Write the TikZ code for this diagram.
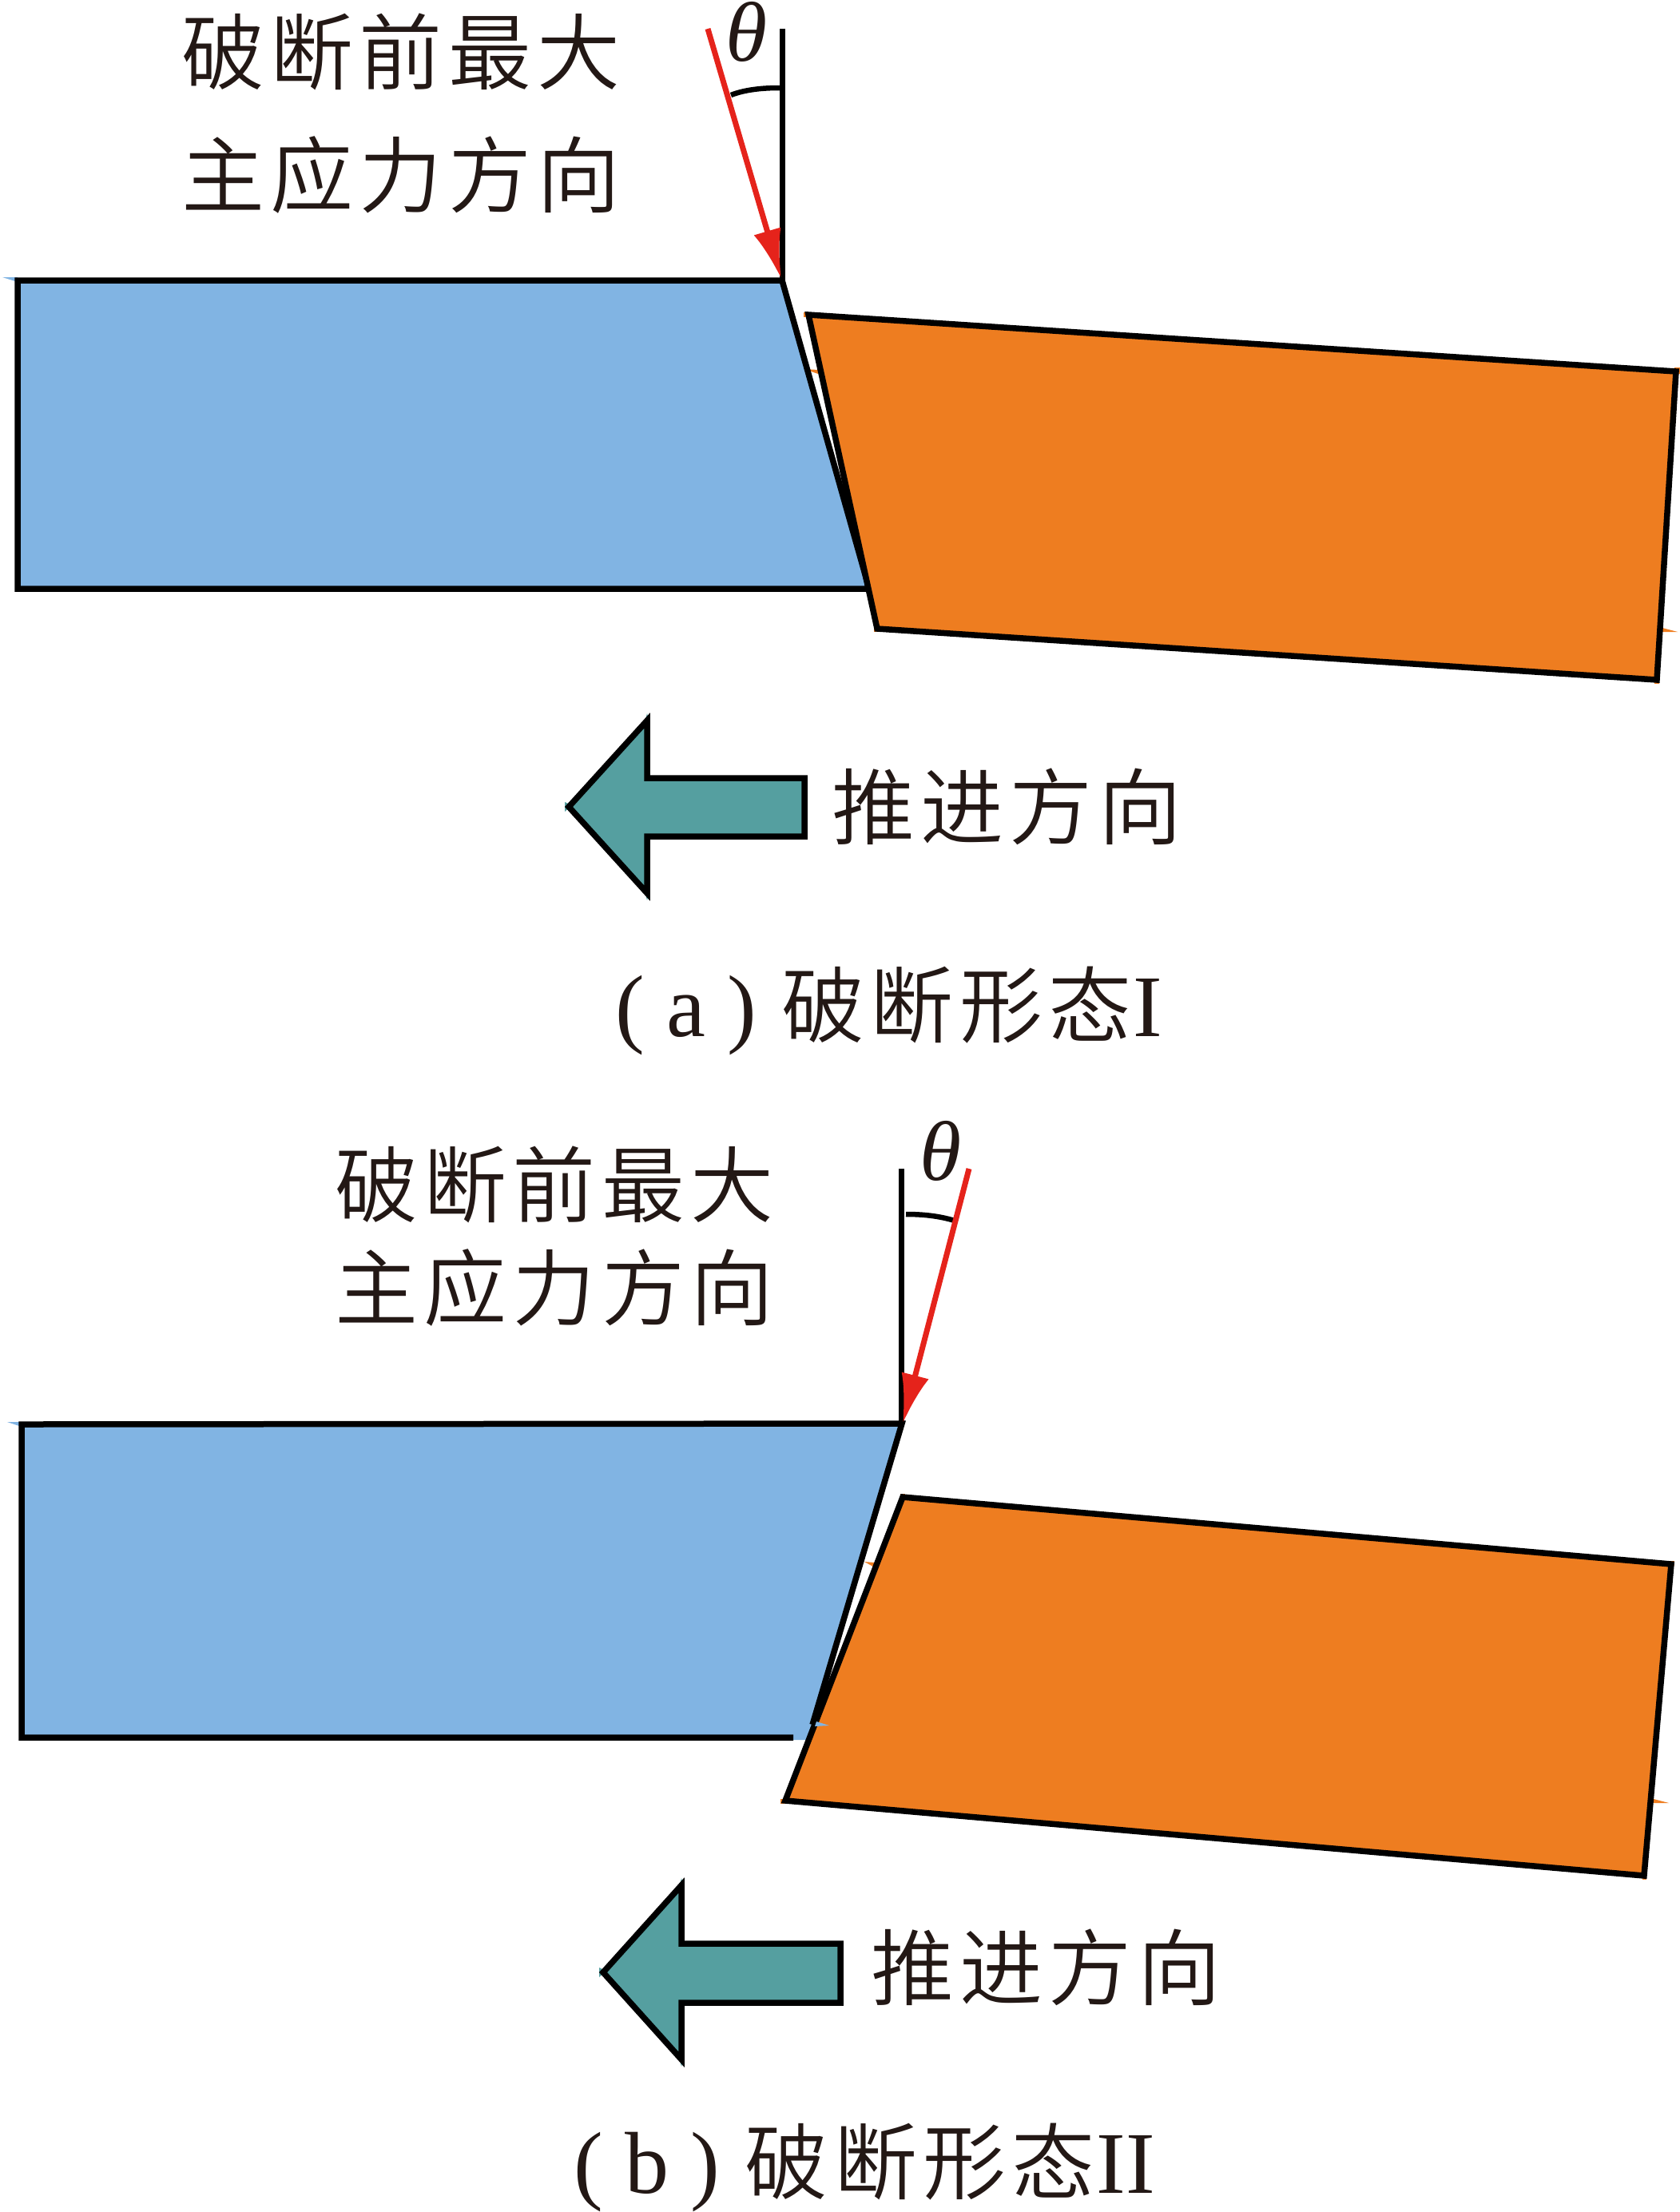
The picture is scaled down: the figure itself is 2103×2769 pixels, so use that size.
\documentclass[tikz,border=0pt]{standalone}
\usepackage{fontspec}
\usetikzlibrary{arrows.meta}
\setmainfont{Liberation Serif}
\newfontfamily\cjk[LetterSpace=7]{Noto Sans CJK SC DemiLight}
\definecolor{inkc}{HTML}{231815}
\definecolor{bluec}{HTML}{81B4E3}
\definecolor{orangec}{HTML}{EE7D20}
\definecolor{tealc}{HTML}{559FA0}
\definecolor{redc}{HTML}{E5231B}
\tikzset{
  outl/.style={draw=black,line width=7.5pt,line join=miter,miter limit=10},
  edgeline/.style={draw=black,line width=7.5pt,line cap=butt},
  refline/.style={draw=black,line width=7pt},
  arcline/.style={draw=black,line width=6.5pt},
  redarrow/.style={draw=redc,fill=redc,line width=7pt,-{Latex[length=62pt,width=35pt]}},
  cjktext/.style={text=inkc,inner sep=0pt,anchor=west,font=\fontsize{104}{120}\selectfont\cjk},
  captext/.style={text=inkc,inner sep=0pt,anchor=base west,font=\fontsize{110}{120}\selectfont},
  thetatext/.style={text=inkc,inner sep=0pt,font=\fontsize{106}{120}\selectfont\itshape},
  nubo/.style={fill=orangec},nubb/.style={fill=bluec},nubt/.style={fill=tealc}
}
\begin{document}
\begin{tikzpicture}[x=1pt,y=-1pt]
\useasboundingbox (0,0) rectangle (2103,2769);
% ---------- panel (a)
\fill[nubo] (1007,462) -- (1024,463) -- (1024,468) -- cycle;
\fill[nubb] (3,347) -- (22,347) -- (22,353) -- cycle;
\coordinate (a1) at (22,351);\coordinate (a2) at (979,351);\coordinate (a3) at (1088,737);\coordinate (a4) at (22,737);
\fill[bluec] (a1) -- (a2) -- (a3) -- (a4) -- cycle;
\draw[edgeline,line join=miter] (a3) -- (a2) -- (a1) -- (a4) -- (a3);
\fill[nubo] (1006,391) rectangle (1012,397);
\fill[nubo] (1094,785) rectangle (1100,791);
\fill[nubo] (2096,460) rectangle (2103,468);
\fill[nubo] (2071,851) rectangle (2077,856);
\fill[nubo] (2081,786) -- (2100,791) -- (2081,791) -- cycle;
\draw[outl,fill=orangec] (1012,394) -- (2098,465) -- (2074,851) -- (1098,787) -- cycle;
\coordinate (va) at (979,36);\coordinate (vb) at (979,351);
\draw[refline] (va) -- (vb);
\coordinate (ra) at (886,36);\coordinate (rb) at (978,349);
\draw[arcline] (915,119) .. controls (933,112) and (955,110) .. (976,110);
\draw[redarrow] (ra) -- (rb);
\node[thetatext] (th1) at (935,40) {θ};
\node[cjktext] (t1) at (227,65) {破断前最大};
\node[cjktext] (t2) at (227,219) {主应力方向};
% arrow a
\fill[nubt] (707,1004) -- (716,1008) -- (707,1016) -- cycle;
\fill[nubt] (810,893) -- (813,905) -- (807,905) -- cycle;
\fill[nubt] (810,1127) -- (813,1115) -- (807,1115) -- cycle;
\draw[outl,fill=tealc] (712,1010) -- (810,902) -- (810,974) -- (1007,974) -- (1007,1047) -- (810,1047) -- (810,1118) -- cycle;
\node[cjktext] (p1) at (1041,1010) {推进方向};
\node[captext] (c1) at (770,1297) {( a )\hspace{4pt} {\fontsize{104}{120}\selectfont\cjk 破断形态}\hspace{2pt}I};
% ---------- panel (b)
\fill[nubb] (9,1780) -- (27,1780) -- (27,1786) -- cycle;
\fill[nubo] (1082,1955) -- (1095,1956) -- (1093,1961) -- cycle;
\coordinate (b1) at (27,1783);\coordinate (b2) at (1129,1782);\coordinate (b3) at (1017,2159);\coordinate (b4) at (27,2175);\coordinate (b5) at (993,2175);
\fill[bluec] (b1) -- (b2) -- (1012,2178) -- (27,2178) -- cycle;
\draw[edgeline,line join=miter] (b3) -- (b2) -- (b1) -- (b4) -- (b5);
\fill[nubo] (1127,1870) rectangle (1133,1875);
\fill[nubo] (977,2252) rectangle (983,2258);
\fill[nubo] (2090,1954) rectangle (2096,1960);
\fill[nubo] (2056,2347) rectangle (2061,2353);
\fill[nubo] (2070,2252) -- (2089,2257) -- (2070,2257) -- cycle;
\draw[outl,fill=orangec] (1130,1874) -- (2092,1958) -- (2058,2348) -- (983,2254) -- cycle;
\fill[nubb] (1022,2155) -- (1038,2160) -- (1020,2161) -- cycle;
\coordinate (vc) at (1128,1463);\coordinate (vd) at (1128,1782);
\draw[refline] (vc) -- (vd);
\coordinate (rc) at (1213,1463);\coordinate (rd) at (1130,1782);
\draw[arcline] (1134,1520) .. controls (1155,1520) and (1175,1522) .. (1195,1528);
\draw[redarrow] (rc) -- (rd);
\node[thetatext] (th2) at (1178,1441) {θ};
\node[cjktext] (t3) at (419,1483) {破断前最大};
\node[cjktext] (t4) at (419,1612) {主应力方向};
% arrow b
\fill[nubt] (750,2463) -- (759,2467) -- (750,2475) -- cycle;
\fill[nubt] (853,2351) -- (856,2363) -- (850,2363) -- cycle;
\fill[nubt] (853,2587) -- (856,2575) -- (850,2575) -- cycle;
\draw[outl,fill=tealc] (755,2469) -- (853,2360) -- (853,2433) -- (1052,2433) -- (1052,2507) -- (853,2507) -- (853,2578) -- cycle;
\node[cjktext] (p2) at (1090,2463) {推进方向};
\node[captext] (c2) at (718,2745) {( b )\hspace{4pt} {\fontsize{104}{120}\selectfont\cjk 破断形态}\hspace{2pt}II};
\end{tikzpicture}
\end{document}
